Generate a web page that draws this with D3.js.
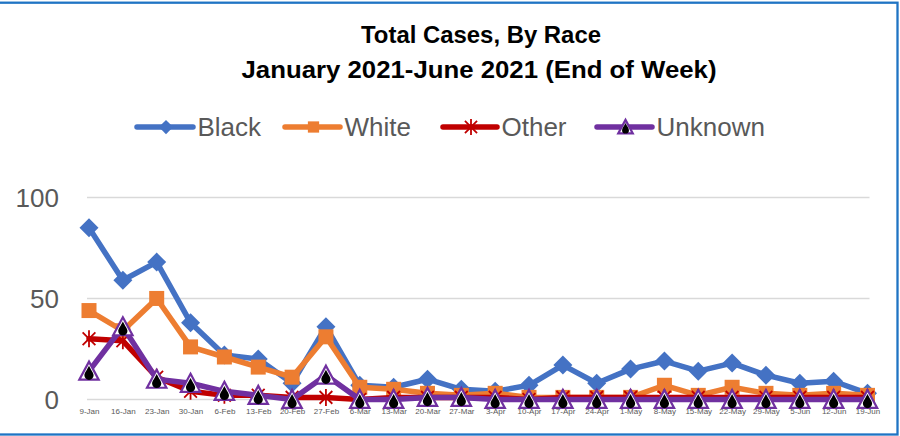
<!DOCTYPE html>
<html>
<head>
<meta charset="utf-8">
<script src="https://cdn.jsdelivr.net/npm/d3@7"></script>
<style>
  html, body { margin: 0; padding: 0; background: #fff; }
  svg { display: block; }
  text { font-family: "Liberation Sans", Arial, sans-serif; }
</style>
</head>
<body>
<svg id="chart" width="900" height="436"></svg>
<script>
// ---- data ----
const categories = ["9-Jan","16-Jan","23-Jan","30-Jan","6-Feb","13-Feb","20-Feb","27-Feb","6-Mar","13-Mar","20-Mar","27-Mar","3-Apr","10-Apr","17-Apr","24-Apr","1-May","8-May","15-May","22-May","29-May","5-Jun","12-Jun","19-Jun"];
const black   = [85, 59, 68, 38, 22, 20, 8, 36, 7, 6, 10, 5, 4, 7, 17, 8, 15, 19, 14, 18, 12, 8, 9, 3];
const white   = [44, 34, 50, 26, 21, 16, 11, 31, 6, 5, 3, 2, 3, 1, 1, 1, 1, 7, 2, 6, 3, 2, 3, 2];
const other   = [30, 29, 11, 4, 2, 2, 1, 1, 0, 1, 1, 1, 1, 0, 1, 1, 1, 1, 1, 1, 1, 1, 1, 1];
const unknown = [14, 36, 10, 8, 4, 2, 0, 12, 0, 0, 1, 1, 0, 0, 0, 0, 0, 0, 0, 0, 0, 0, 0, 0];
const seriesNames = ["Black", "White", "Other", "Unknown"];
const yTicks = [0, 50, 100];
const titleLines = ["Total Cases, By Race", "January 2021-June 2021 (End of Week)"];

// ---- styling / layout ----
const colors = { Black: "#4472C4", White: "#ED7D31", Other: "#C00000", Unknown: "#7030A0" };
const markerOf = { Black: "diamond", White: "square", Other: "star", Unknown: "triangle" };
const values = { Black: black, White: white, Other: other, Unknown: unknown };

const svg = d3.select("#chart");
const x = d3.scalePoint().domain(categories).range([89, 867.5]);
const y = d3.scaleLinear().domain([0, 100]).range([399.4, 197.5]);

// outer border (chart frame, cropped on the left)
svg.append("rect").attr("x", -3).attr("y", 2.7).attr("width", 900.5).attr("height", 431.8)
  .attr("fill", "none").attr("stroke", "#1F74C4").attr("stroke-width", 2.3);

// titles
svg.append("text").attr("x", 481).attr("y", 43.3).attr("text-anchor", "middle")
  .attr("font-size", 24.5).attr("font-weight", "bold").attr("fill", "#000")
  .attr("textLength", 240).attr("lengthAdjust", "spacingAndGlyphs").text(titleLines[0]);
svg.append("text").attr("x", 479).attr("y", 77.7).attr("text-anchor", "middle")
  .attr("font-size", 24.5).attr("font-weight", "bold").attr("fill", "#000")
  .attr("textLength", 475).attr("lengthAdjust", "spacingAndGlyphs").text(titleLines[1]);

// gridlines
svg.append("g").selectAll("line").data(yTicks).join("line")
  .attr("x1", 87).attr("x2", 869.5)
  .attr("y1", d => y(d)).attr("y2", d => y(d))
  .attr("stroke", "#D9D9D9").attr("stroke-width", 1.5);

// y axis labels
const yAxis = d3.axisLeft(y).tickValues(yTicks).tickSize(0).tickPadding(0).tickFormat(d3.format("d"));
const gy = svg.append("g").attr("transform", "translate(59,0)").call(yAxis);
gy.select(".domain").remove();
gy.selectAll("text").attr("font-size", 26).attr("fill", "#595959")
  .attr("font-family", "Liberation Sans, Arial, sans-serif").attr("dy", "0.36em");

// marker drawing
function drawMarker(g, type, color, scale) {
  const s = scale || 1;
  if (type === "diamond") {
    const r = 9.5 * s;
    g.append("path").attr("d", `M0,${-r}L${r},0L0,${r}L${-r},0Z`).attr("fill", color);
  } else if (type === "square") {
    const h = 7.5 * s;
    g.append("rect").attr("x", -h).attr("y", -h).attr("width", 2 * h).attr("height", 2 * h).attr("fill", color);
  } else if (type === "star") {
    const r = 8.5 * s;
    const d = r * 0.75;
    g.append("path").attr("d", `M0,${-r}L0,${r}M${-d},${-d}L${d},${d}M${-d},${d}L${d},${-d}`)
      .attr("stroke", color).attr("stroke-width", 1.8).attr("fill", "none");
  } else if (type === "triangle") {
    const a = 9.5 * s;
    g.append("path").attr("d", `M0,${-a}L${a * 1.02},${a * 0.9}L${-a * 1.02},${a * 0.9}Z`)
      .attr("fill", "#fff").attr("stroke", color).attr("stroke-width", 2.2).attr("stroke-linejoin", "miter");
    g.append("path")
      .attr("d", `M0,${-6.5 * s}C${1.5 * s},${-3 * s} ${4.6 * s},${0.5 * s} ${4.6 * s},${3 * s}A${4.6 * s},${4.6 * s} 0 0 1 ${-4.6 * s},${3 * s}C${-4.6 * s},${0.5 * s} ${-1.5 * s},${-3 * s} 0,${-6.5 * s}Z`)
      .attr("transform", `translate(0,${1.2 * s})`)
      .attr("fill", "#000");
  }
}

// series
const line = d3.line().x((d, i) => x(categories[i])).y(d => y(d));
seriesNames.forEach(name => {
  const g = svg.append("g");
  g.append("path").datum(values[name]).attr("d", line)
    .attr("fill", "none").attr("stroke", colors[name]).attr("stroke-width", 5.5)
    .attr("stroke-linejoin", "round").attr("stroke-linecap", "round");
  values[name].forEach((v, i) => {
    const m = g.append("g").attr("transform", `translate(${x(categories[i])},${y(v)})`);
    drawMarker(m, markerOf[name], colors[name], 1);
  });
});

// x axis labels (drawn above the marks, as in the reference)
const xAxis = d3.axisBottom(x).tickSize(0).tickPadding(0);
const gx = svg.append("g").attr("transform", "translate(0,408)").call(xAxis);
gx.select(".domain").remove();
gx.selectAll("text").attr("font-size", 8).attr("fill", "#595959")
  .attr("font-family", "Liberation Sans, Arial, sans-serif").attr("dy", "0.71em");

// legend
const legendStarts = [137, 285, 443, 597];
const legendLen = [56, 55, 54, 55];
const legendY = 127;
seriesNames.forEach((name, i) => {
  const g = svg.append("g").attr("transform", `translate(${legendStarts[i]},${legendY})`);
  g.append("line").attr("x1", 0).attr("x2", legendLen[i]).attr("y1", 0).attr("y2", 0)
    .attr("stroke", colors[name]).attr("stroke-width", 5.5).attr("stroke-linecap", "round");
  const m = g.append("g").attr("transform", `translate(${legendLen[i] / 2 + 1},0)`);
  drawMarker(m, markerOf[name], colors[name], name === "Other" ? 0.95 : 0.75);
  g.append("text").attr("x", legendLen[i] + 4.5).attr("y", 9.2)
    .attr("font-size", 26).attr("fill", "#595959").text(name);
});
</script>
</body>
</html>
